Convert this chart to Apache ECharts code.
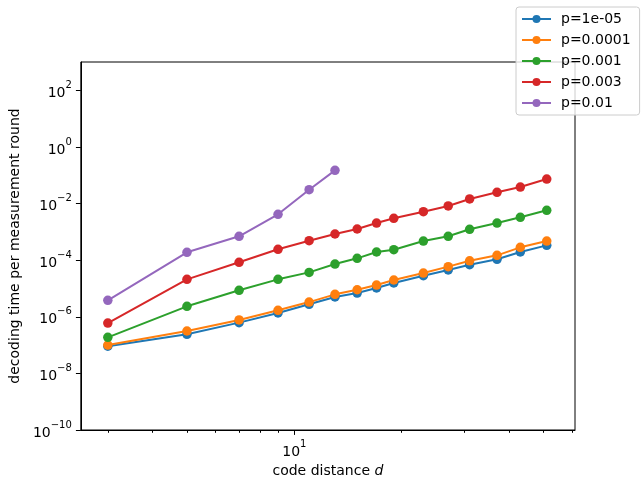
<!DOCTYPE html>
<html>
<head>
<meta charset="utf-8">
<script src="https://cdn.jsdelivr.net/npm/echarts@6/dist/echarts.min.js"></script>
<style>
    html, body { margin: 0; padding: 0; background: #fff; }
    #chart { width: 641px; height: 489px; }
</style>
</head>
<body>
<div id="chart"></div>
<script>
// code distances
var distances = [3, 5, 7, 9, 11, 13, 15, 17, 19, 23, 27, 31, 37, 43, 51];
var distancesShort = [3, 5, 7, 9, 11, 13];

// decoding time per measurement round
var p1e5 = [9.1e-8, 2.4e-7, 6.2e-7, 1.36e-6, 2.75e-6, 5.0e-6, 6.9e-6, 1.04e-5, 1.56e-5, 2.83e-5, 4.5e-5, 6.9e-5, 1.07e-4, 1.94e-4, 3.33e-4];
var p1e4 = [1.0e-7, 3.14e-7, 7.7e-7, 1.69e-6, 3.3e-6, 6.2e-6, 9.0e-6, 1.32e-5, 1.99e-5, 3.5e-5, 5.9e-5, 9.5e-5, 1.48e-4, 2.84e-4, 4.74e-4];
var p1e3 = [1.88e-7, 2.34e-6, 8.6e-6, 2.1e-5, 3.7e-5, 7.3e-5, 1.16e-4, 1.94e-4, 2.34e-4, 4.74e-4, 6.95e-4, 1.23e-3, 2.05e-3, 3.26e-3, 5.75e-3];
var p3e3 = [6.0e-7, 2.1e-5, 8.4e-5, 2.42e-4, 4.86e-4, 8.4e-4, 1.26e-3, 2.05e-3, 3.0e-3, 5.14e-3, 8.2e-3, 1.45e-2, 2.49e-2, 3.83e-2, 7.34e-2];
var p1e2 = [3.81e-6, 1.89e-4, 6.95e-4, 4.16e-3, 3.08e-2, 1.49e-1];

var names = ['p=1e-05', 'p=0.0001', 'p=0.001', 'p=0.003', 'p=0.01'];
var colors = ['#1f77b4', '#ff7f0e', '#2ca02c', '#d62728', '#9467bd'];

// tick values
var xMajor = [10];
var xMinor = [3, 4, 5, 6, 7, 8, 9, 20, 30, 40, 50, 60];
var yMajor = [1e-10, 1e-8, 1e-6, 1e-4, 1e-2, 1, 1e2];

var font = 'DejaVu Sans';

function pairs(xs, ys) {
    var out = [];
    for (var i = 0; i < ys.length; i++) {
        out.push([xs[i], ys[i]]);
    }
    return out;
}

function powLabel(value) {
    var e = Math.round(Math.log10(value));
    return '{b|10}{s|' + String(e).replace('-', '\u2212') + '}';
}

var powRich = {
    b: { fontFamily: font, fontSize: 14, color: '#000', lineHeight: 20, verticalAlign: 'bottom' },
    s: { fontFamily: font, fontSize: 10, color: '#000', lineHeight: 20, verticalAlign: 'top' }
};

var seriesData = [
    pairs(distances, p1e5),
    pairs(distances, p1e4),
    pairs(distances, p1e3),
    pairs(distances, p3e3),
    pairs(distancesShort, p1e2)
];

var series = [];
for (var k = 0; k < names.length; k++) {
    series.push({
        name: names[k],
        type: 'line',
        xAxisIndex: 0,
        yAxisIndex: 0,
        data: seriesData[k],
        symbol: 'circle',
        symbolSize: 9.5,
        color: colors[k],
        lineStyle: { width: 2, color: colors[k] },
        itemStyle: { color: colors[k] },
        animation: false
    });
}

var chart = echarts.init(document.getElementById('chart'));
chart.setOption({
    animation: false,
    textStyle: { fontFamily: font },
    grid: {
        left: 80, right: 66, top: 62, bottom: 59,
        show: true, borderColor: '#000', borderWidth: 1
    },
    legend: {
        orient: 'vertical',
        left: 516, top: 7,
        padding: [5, 9, 5, 5],
        itemWidth: 29, itemHeight: 10, itemGap: 7,
        backgroundColor: 'rgba(255,255,255,0.8)',
        borderColor: '#cccccc', borderWidth: 1, borderRadius: 3,
        textStyle: { fontFamily: font, fontSize: 14, color: '#000', padding: [0, 0, 0, 5] },
        data: names
    },
    xAxis: [{
        type: 'log', logBase: 10,
        min: 2.52, max: 61.2,
        name: 'code distance {i|d}',
        nameLocation: 'middle', nameGap: 29,
        nameTextStyle: {
            fontFamily: font, fontSize: 14, color: '#000',
            rich: { i: { fontFamily: font, fontSize: 14, fontStyle: 'italic', color: '#000' } }
        },
        axisLine: { show: true, lineStyle: { color: '#000', width: 1 } },
        axisTick: { show: true, customValues: xMajor, length: 4.9, lineStyle: { color: '#000', width: 1 } },
        axisLabel: { customValues: xMajor, margin: 9, formatter: powLabel, rich: powRich },
        splitLine: { show: false },
        minorTick: { show: false }
    }, {
        type: 'log', logBase: 10,
        min: 2.52, max: 61.2,
        position: 'bottom',
        axisLine: { show: false },
        axisTick: { show: true, customValues: xMinor, length: 2.8, lineStyle: { color: '#000', width: 1 } },
        axisLabel: { show: false },
        splitLine: { show: false }
    }],
    yAxis: {
        type: 'log', logBase: 10,
        min: 1e-10, max: 1e3,
        name: 'decoding time per measurement round',
        nameLocation: 'middle', nameGap: 57,
        nameTextStyle: { fontFamily: font, fontSize: 14, color: '#000' },
        axisLine: { show: true, lineStyle: { color: '#000', width: 1 } },
        axisTick: { show: true, customValues: yMajor, length: 4.9, lineStyle: { color: '#000', width: 1 } },
        axisLabel: { customValues: yMajor, margin: 9, formatter: powLabel, rich: powRich },
        splitLine: { show: false }
    },
    series: series
});
</script>
</body>
</html>
